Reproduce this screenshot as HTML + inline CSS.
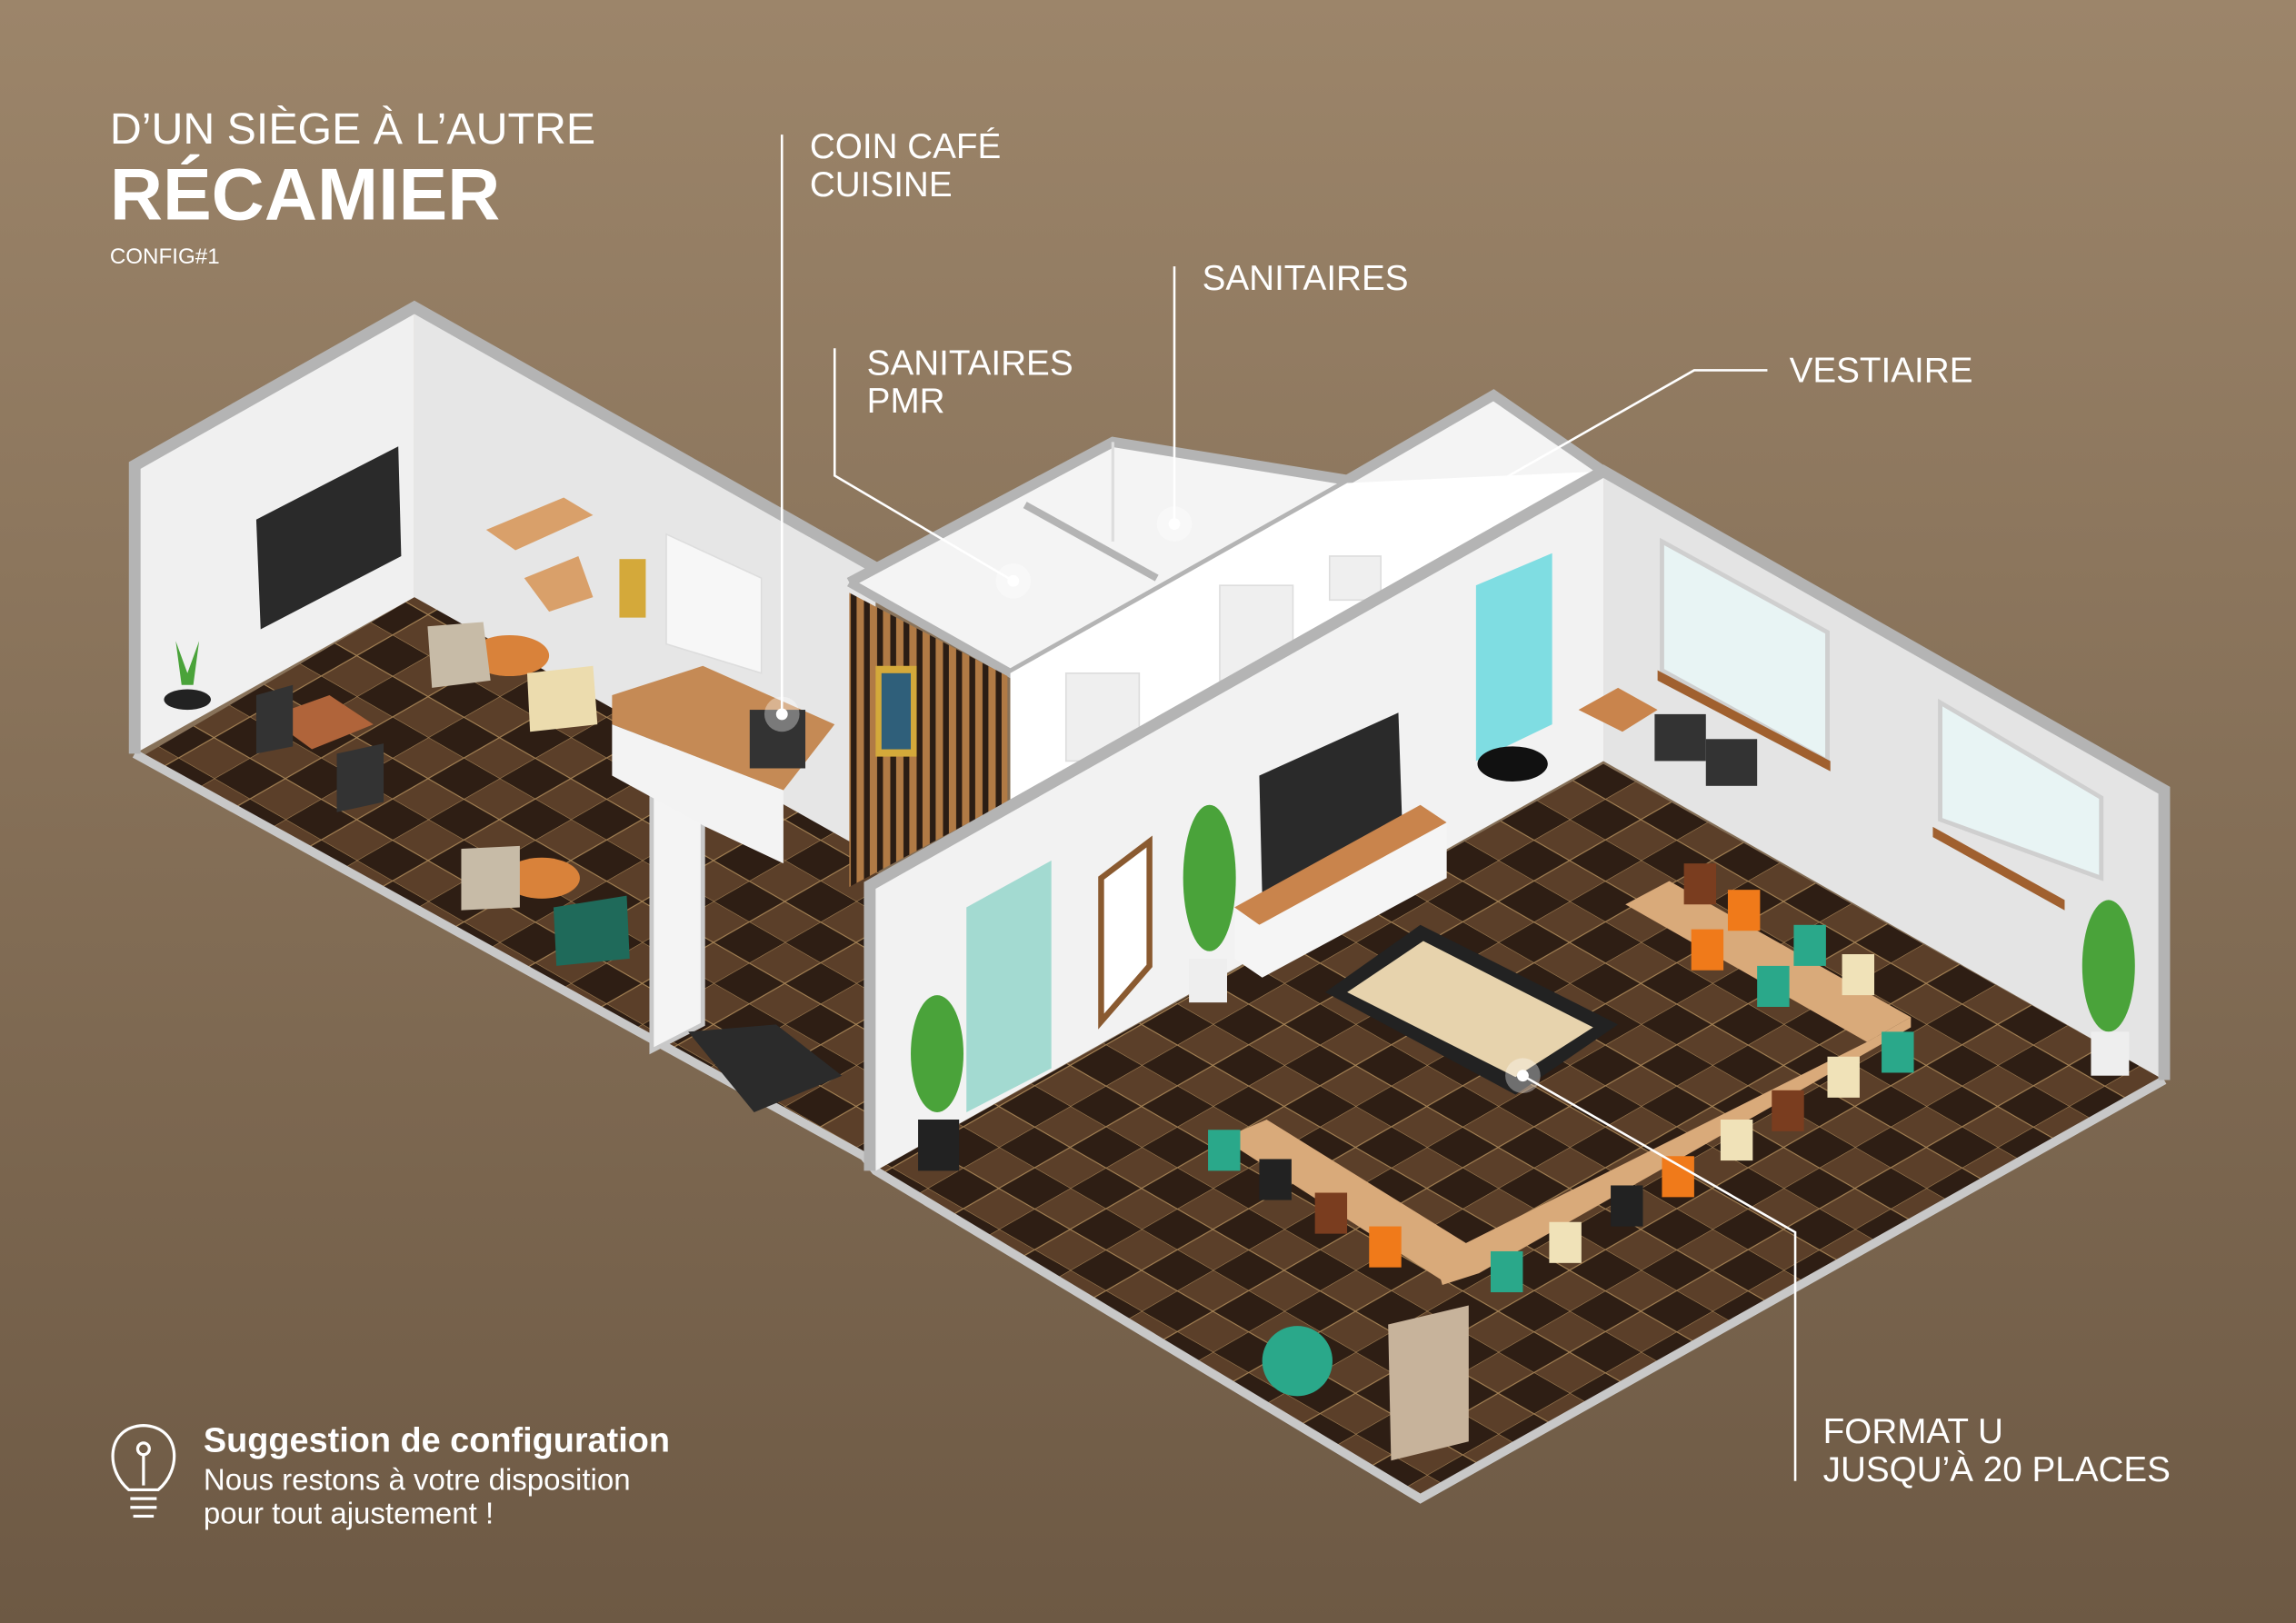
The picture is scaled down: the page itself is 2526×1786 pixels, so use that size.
<!DOCTYPE html>
<html><head><meta charset="utf-8"><style>
html,body{margin:0;padding:0;width:2526px;height:1786px;overflow:hidden;background:#8a745c}
svg{display:block}
text{font-family:"Liberation Sans",sans-serif;fill:#fff}
</style></head><body>
<svg width="2526" height="1786" viewBox="0 0 1568 1109" preserveAspectRatio="none" xmlns="http://www.w3.org/2000/svg">
<defs>
<linearGradient id="bg" x1="0" y1="0" x2="0" y2="1">
<stop offset="0" stop-color="#9c856a"/><stop offset="1" stop-color="#6d5944"/></linearGradient>
<pattern id="tile" width="56" height="56" patternUnits="userSpaceOnUse" patternTransform="matrix(0.87,0.5,0.87,-0.5,0,0)">
<rect width="56" height="56" fill="#5b3f29"/>
<rect width="28" height="28" fill="#2e1e14"/><rect x="28" y="28" width="28" height="28" fill="#2e1e14"/>
<path d="M0 0H56M0 28H56M0 0V56M28 0V56" stroke="#a88556" stroke-width="0.8"/>
</pattern>
<pattern id="slat" width="9" height="10" patternUnits="userSpaceOnUse">
<rect width="9" height="10" fill="#2b1d14"/><rect width="5" height="10" fill="#b07a45"/></pattern>
</defs>
<rect width="1568" height="1109" fill="url(#bg)"/>

<polygon points="95,518 283,408 600,585 598,800 590,790" fill="url(#tile)"/>
<polygon points="598,800 1095,522 1478,738 970,1022" fill="url(#tile)"/>
<polyline points="92,515 590,790 598,800 970,1024 1478,738" fill="none" stroke="#c8c8c8" stroke-width="6"/>

<polygon points="92,318 283,210 283,408 92,515" fill="#f0f0f0"/>
<polygon points="283,210 598,388 598,585 283,408" fill="#e6e6e6"/>
<polyline points="92,515 92,318 283,210 598,388" fill="none" stroke="#b4b4b4" stroke-width="8"/>

<polygon points="580,398 760,302 920,328 1020,270 1095,322 690,548 690,460" fill="#f4f4f4"/>
<polyline points="580,398 760,302 920,328 1020,270 1095,322" fill="none" stroke="#b4b4b4" stroke-width="7"/>
<polyline points="580,398 690,460 920,330" fill="none" stroke="#b4b4b4" stroke-width="6"/>
<line x1="700" y1="345" x2="790" y2="395" stroke="#b4b4b4" stroke-width="5"/>
<line x1="760" y1="302" x2="760" y2="370" stroke="#ddd" stroke-width="2"/>
<polygon points="690,460 920,330 1095,322 690,548" fill="#ffffff"/>
<rect x="728" y="460" width="50" height="60" fill="#efefef" stroke="#ddd"/>
<rect x="833" y="400" width="50" height="65" fill="#efefef" stroke="#ddd"/>
<rect x="908" y="380" width="35" height="30" fill="#efefef" stroke="#ddd"/>
<polygon points="580,405 688,462 688,548 580,606" fill="url(#slat)"/>
<rect x="598" y="455" width="28" height="62" fill="#d4a93a"/><rect x="602" y="460" width="20" height="52" fill="#2f5f7a"/>

<polygon points="590,605 1095,322 1095,520 598,800" fill="#f2f2f2"/>
<polygon points="1095,322 1478,540 1478,738 1095,520" fill="#e4e4e4"/>
<polyline points="594,800 594,605 1095,322 1478,540 1478,738" fill="none" stroke="#b4b4b4" stroke-width="8"/>
<polygon points="445,515 480,498 480,700 445,718" fill="#f4f4f4" stroke="#c8c8c8" stroke-width="3"/>
<polygon points="1135,370 1248,432 1248,520 1135,458" fill="#e8f4f4" stroke="#cfcfcf" stroke-width="3"/>
<polygon points="1325,480 1435,545 1435,600 1325,560" fill="#e8f4f4" stroke="#cfcfcf" stroke-width="3"/>
<polygon points="1132,458 1250,520 1250,527 1132,465" fill="#a0602f"/>
<polygon points="1320,565 1410,615 1410,622 1320,572" fill="#a0602f"/>
<polygon points="1008,400 1060,378 1060,495 1008,520" fill="#7fdde2"/>
<polygon points="660,620 718,588 718,730 660,760" fill="#8fd3c8" opacity="0.8"/>
<polygon points="752,600 785,575 785,660 752,698" fill="#fff" stroke="#8a5a30" stroke-width="4"/>

<polygon points="175,355 272,305 274,380 178,430" fill="#2a2a2a"/>
<polygon points="332,362 385,340 405,352 352,376" fill="#d9a06a"/>
<polygon points="358,395 395,380 405,408 375,418" fill="#d9a06a"/>
<rect x="423" y="382" width="18" height="40" fill="#d4a93a"/>
<polygon points="455,365 520,395 520,460 455,440" fill="#f7f7f7" stroke="#ddd"/>
<polygon points="418,475 480,455 570,495 535,540 418,495" fill="#c58a55"/>
<polygon points="418,495 535,540 535,590 482,565 418,530" fill="#f3f3f3"/>
<rect x="512" y="485" width="38" height="40" fill="#333"/>
<ellipse cx="348" cy="448" rx="27" ry="14" fill="#d9823a"/>
<ellipse cx="370" cy="600" rx="26" ry="14" fill="#d9823a"/>
<polygon points="183,490 225,475 255,495 213,512" fill="#b0643a"/>
<polygon points="292,428 330,425 335,465 295,470" fill="#c7bba7"/>
<polygon points="360,460 405,455 408,495 362,500" fill="#ecdcae"/>
<polygon points="315,580 355,578 355,620 315,622" fill="#c7bba7"/>
<polygon points="378,620 428,612 430,655 380,660" fill="#1f6a5a"/>
<polygon points="175,475 200,468 200,510 175,515" fill="#333"/>
<polygon points="230,515 262,508 262,548 230,555" fill="#333"/>
<polygon points="470,705 530,700 575,735 515,760" fill="#2b2b2b"/>
<ellipse cx="128" cy="478" rx="16" ry="7" fill="#222"/>
<polygon points="120,438 128,460 136,438 132,468 124,468" fill="#4aa33a"/>

<polygon points="860,530 955,487 958,575 862,612" fill="#2a2a2a"/>
<polygon points="843,620 970,550 988,562 860,632" fill="#c9844c"/>
<polygon points="843,620 860,632 988,562 988,600 862,668 843,655" fill="#f5f5f5"/>
<polygon points="905,678 970,632 1105,700 1035,748" fill="#222"/>
<polygon points="920,678 972,643 1088,702 1035,736" fill="#e7d3ad"/>
<ellipse cx="1033" cy="522" rx="24" ry="12" fill="#111"/>
<polygon points="1078,485 1105,470 1132,485 1108,500" fill="#c9844c"/>
<rect x="1130" y="488" width="35" height="32" fill="#333"/><rect x="1165" y="505" width="35" height="32" fill="#333"/>
<polygon points="1110,618 1140,602 1305,695 1275,712" fill="#d9aa7a"/>
<polygon points="1275,712 1305,695 1305,702 1010,870 980,860" fill="#d9aa7a"/>
<polygon points="835,778 865,765 1015,858 985,875" fill="#d9aa7a"/>
<polygon points="980,860 1010,850 1010,870 985,878" fill="#d9aa7a"/>
<g stroke="none">
<rect x="1150" y="590" width="22" height="28" fill="#7a3d1f"/><rect x="1180" y="608" width="22" height="28" fill="#f07a1a"/>
<rect x="1225" y="632" width="22" height="28" fill="#2aa88a"/><rect x="1258" y="652" width="22" height="28" fill="#f0e2b8"/>
<rect x="1285" y="705" width="22" height="28" fill="#2aa88a"/><rect x="1248" y="722" width="22" height="28" fill="#f0e2b8"/>
<rect x="1210" y="745" width="22" height="28" fill="#7a3d1f"/><rect x="1175" y="765" width="22" height="28" fill="#f0e2b8"/>
<rect x="1135" y="790" width="22" height="28" fill="#f07a1a"/><rect x="1100" y="810" width="22" height="28" fill="#222"/>
<rect x="1058" y="835" width="22" height="28" fill="#f0e2b8"/><rect x="1018" y="855" width="22" height="28" fill="#2aa88a"/>
<rect x="825" y="772" width="22" height="28" fill="#2aa88a"/><rect x="860" y="792" width="22" height="28" fill="#222"/>
<rect x="898" y="815" width="22" height="28" fill="#7a3d1f"/><rect x="935" y="838" width="22" height="28" fill="#f07a1a"/>
<rect x="1155" y="635" width="22" height="28" fill="#f07a1a"/><rect x="1200" y="660" width="22" height="28" fill="#2aa88a"/>
</g>
<circle cx="886" cy="930" r="24" fill="#2aa88a"/>
<polygon points="948,905 1003,892 1003,985 950,998" fill="#c7b39b"/>
<g fill="#4aa33a"><ellipse cx="826" cy="600" rx="18" ry="50"/><ellipse cx="640" cy="720" rx="18" ry="40"/><ellipse cx="1440" cy="660" rx="18" ry="45"/></g>
<rect x="812" y="655" width="26" height="30" fill="#eee"/><rect x="627" y="765" width="28" height="35" fill="#222"/><rect x="1428" y="705" width="26" height="30" fill="#eee"/>

<g stroke="#fff" stroke-width="1.6" fill="none">
<line x1="534" y1="92" x2="534" y2="488"/>
<line x1="802" y1="182" x2="802" y2="358"/>
<polyline points="570,238 570,325 692,397"/>
<polyline points="1207,253 1157,253 999,343"/>
<polyline points="1226,1012 1226,842 1040,735"/>
</g>
<g fill="#fff"><circle cx="534" cy="488" r="4"/><circle cx="802" cy="358" r="4"/><circle cx="692" cy="397" r="4"/><circle cx="999" cy="343" r="4"/><circle cx="1040" cy="735" r="4"/></g>
<g fill="#fff" opacity="0.35"><circle cx="534" cy="488" r="12"/><circle cx="802" cy="358" r="12"/><circle cx="692" cy="397" r="12"/><circle cx="999" cy="343" r="12"/><circle cx="1040" cy="735" r="12"/></g>

<text x="75" y="98" font-size="30">D’UN SIÈGE À L’AUTRE</text>
<text x="75" y="150" font-size="50" font-weight="bold">RÉCAMIER</text>
<text x="75" y="180" font-size="15">CONFIG#1</text>
<text x="553" y="108" font-size="24">COIN CAFÉ</text>
<text x="553" y="134" font-size="24">CUISINE</text>
<text x="821" y="198" font-size="24">SANITAIRES</text>
<text x="592" y="256" font-size="24">SANITAIRES</text>
<text x="592" y="282" font-size="24">PMR</text>
<text x="1222" y="261" font-size="24">VESTIAIRE</text>
<text x="1245" y="986" font-size="24">FORMAT U</text>
<text x="1245" y="1012" font-size="24">JUSQU’À 20 PLACES</text>
<text x="139" y="992" font-size="23.5" font-weight="bold">Suggestion de configuration</text>
<text x="139" y="1018" font-size="20.5">Nous restons à votre disposition</text>
<text x="139" y="1041" font-size="20.5">pour tout ajustement !</text>
<g stroke="#fff" stroke-width="2" fill="none">
<path d="M88 1018 C72 1005 72 975 98 974 C124 975 124 1005 108 1018 Z"/>
<line x1="89" y1="1024" x2="107" y2="1024"/><line x1="89" y1="1030" x2="107" y2="1030"/><line x1="91" y1="1036" x2="105" y2="1036"/>
<circle cx="98" cy="990" r="4"/><line x1="98" y1="994" x2="98" y2="1015"/>
</g>
</svg>
</body></html>
